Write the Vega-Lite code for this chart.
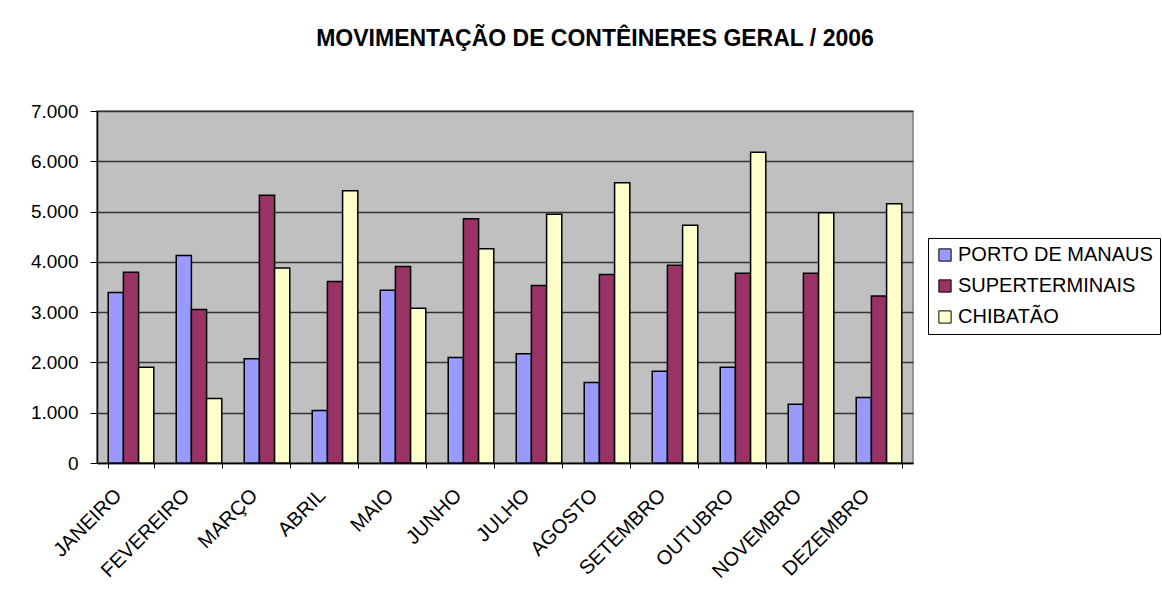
{
  "$schema": "https://vega.github.io/schema/vega-lite/v6.json",
  "autosize": "none",
  "width": 816,
  "height": 352,
  "padding": {"left": 97, "top": 111, "right": 249, "bottom": 144},
  "background": "white",
  "title": {
    "text": "MOVIMENTAÇÃO DE CONTÊINERES GERAL / 2006",
    "font": "Liberation Sans",
    "fontSize": 23,
    "fontWeight": "bold",
    "color": "#000000",
    "anchor": "middle",
    "dx": 90,
    "offset": 51
  },
  "data": {
    "values": [
      {"mes": "JANEIRO", "serie": "PORTO DE MANAUS", "valor": 3390},
      {"mes": "JANEIRO", "serie": "SUPERTERMINAIS", "valor": 3794},
      {"mes": "JANEIRO", "serie": "CHIBATÃO", "valor": 1906},
      {"mes": "FEVEREIRO", "serie": "PORTO DE MANAUS", "valor": 4127},
      {"mes": "FEVEREIRO", "serie": "SUPERTERMINAIS", "valor": 3051},
      {"mes": "FEVEREIRO", "serie": "CHIBATÃO", "valor": 1282},
      {"mes": "MARÇO", "serie": "PORTO DE MANAUS", "valor": 2074},
      {"mes": "MARÇO", "serie": "SUPERTERMINAIS", "valor": 5324},
      {"mes": "MARÇO", "serie": "CHIBATÃO", "valor": 3880},
      {"mes": "ABRIL", "serie": "PORTO DE MANAUS", "valor": 1043},
      {"mes": "ABRIL", "serie": "SUPERTERMINAIS", "valor": 3609},
      {"mes": "ABRIL", "serie": "CHIBATÃO", "valor": 5416},
      {"mes": "MAIO", "serie": "PORTO DE MANAUS", "valor": 3436},
      {"mes": "MAIO", "serie": "SUPERTERMINAIS", "valor": 3908},
      {"mes": "MAIO", "serie": "CHIBATÃO", "valor": 3077},
      {"mes": "JUNHO", "serie": "PORTO DE MANAUS", "valor": 2100},
      {"mes": "JUNHO", "serie": "SUPERTERMINAIS", "valor": 4857},
      {"mes": "JUNHO", "serie": "CHIBATÃO", "valor": 4259},
      {"mes": "JULHO", "serie": "PORTO DE MANAUS", "valor": 2173},
      {"mes": "JULHO", "serie": "SUPERTERMINAIS", "valor": 3529},
      {"mes": "JULHO", "serie": "CHIBATÃO", "valor": 4945},
      {"mes": "AGOSTO", "serie": "PORTO DE MANAUS", "valor": 1601},
      {"mes": "AGOSTO", "serie": "SUPERTERMINAIS", "valor": 3749},
      {"mes": "AGOSTO", "serie": "CHIBATÃO", "valor": 5575},
      {"mes": "SETEMBRO", "serie": "PORTO DE MANAUS", "valor": 1827},
      {"mes": "SETEMBRO", "serie": "SUPERTERMINAIS", "valor": 3934},
      {"mes": "SETEMBRO", "serie": "CHIBATÃO", "valor": 4726},
      {"mes": "OUTUBRO", "serie": "PORTO DE MANAUS", "valor": 1906},
      {"mes": "OUTUBRO", "serie": "SUPERTERMINAIS", "valor": 3775},
      {"mes": "OUTUBRO", "serie": "CHIBATÃO", "valor": 6181},
      {"mes": "NOVEMBRO", "serie": "PORTO DE MANAUS", "valor": 1169},
      {"mes": "NOVEMBRO", "serie": "SUPERTERMINAIS", "valor": 3775},
      {"mes": "NOVEMBRO", "serie": "CHIBATÃO", "valor": 4977},
      {"mes": "DEZEMBRO", "serie": "PORTO DE MANAUS", "valor": 1302},
      {"mes": "DEZEMBRO", "serie": "SUPERTERMINAIS", "valor": 3322},
      {"mes": "DEZEMBRO", "serie": "CHIBATÃO", "valor": 5157}
    ]
  },
  "mark": {"type": "bar", "stroke": "#000000", "strokeWidth": 1.5},
  "encoding": {
    "x": {
      "field": "mes",
      "type": "nominal",
      "sort": null,
      "title": null,
      "scale": {"paddingInner": 0.33, "paddingOuter": 0.165},
      "axis": {
        "labelAngle": -45,
        "labelAlign": "right",
        "labelBaseline": "middle",
        "labelFont": "Liberation Sans",
        "labelFontSize": 20,
        "labelColor": "#000000",
        "labelPadding": 24,
        "labelOffset": -13,
        "labelOverlap": false,
        "labelLimit": 300,
        "tickBand": "extent",
        "tickColor": "#000000",
        "tickSize": 5,
        "domainColor": "#000000",
        "domainWidth": 1.5
      }
    },
    "xOffset": {
      "field": "serie",
      "type": "nominal",
      "sort": ["PORTO DE MANAUS", "SUPERTERMINAIS", "CHIBATÃO"],
      "scale": {"paddingInner": 0, "paddingOuter": 0}
    },
    "y": {
      "field": "valor",
      "type": "quantitative",
      "title": null,
      "scale": {"domain": [0, 7000], "nice": false},
      "axis": {
        "values": [0, 1000, 2000, 3000, 4000, 5000, 6000, 7000],
        "labelExpr": "replace(format(datum.value, ','), ',', '.')",
        "labelFont": "Liberation Sans",
        "labelFontSize": 19,
        "labelColor": "#000000",
        "labelPadding": 12,
        "tickColor": "#000000",
        "tickSize": 7,
        "domainColor": "#000000",
        "domainWidth": 1.5,
        "grid": true,
        "gridColor": "#333333",
        "gridWidth": 1.5
      }
    },
    "color": {
      "field": "serie",
      "type": "nominal",
      "sort": ["PORTO DE MANAUS", "SUPERTERMINAIS", "CHIBATÃO"],
      "scale": {
        "domain": ["PORTO DE MANAUS", "SUPERTERMINAIS", "CHIBATÃO"],
        "range": ["#9999FF", "#993366", "#FFFFCC"]
      },
      "legend": {
        "title": null,
        "orient": "none",
        "legendX": 831,
        "legendY": 127,
        "symbolType": "square",
        "symbolSize": 150,
        "symbolStrokeColor": "#000000",
        "symbolStrokeWidth": 1,
        "labelFont": "Liberation Sans",
        "labelFontSize": 20,
        "labelColor": "#000000",
        "labelLimit": 400,
        "labelOffset": 3,
        "rowPadding": 11,
        "padding": 7,
        "strokeColor": "#000000",
        "fillColor": "#FFFFFF"
      }
    }
  },
  "config": {
    "view": {"fill": "#C0C0C0", "stroke": "#808080", "strokeWidth": 1.5}
  }
}
